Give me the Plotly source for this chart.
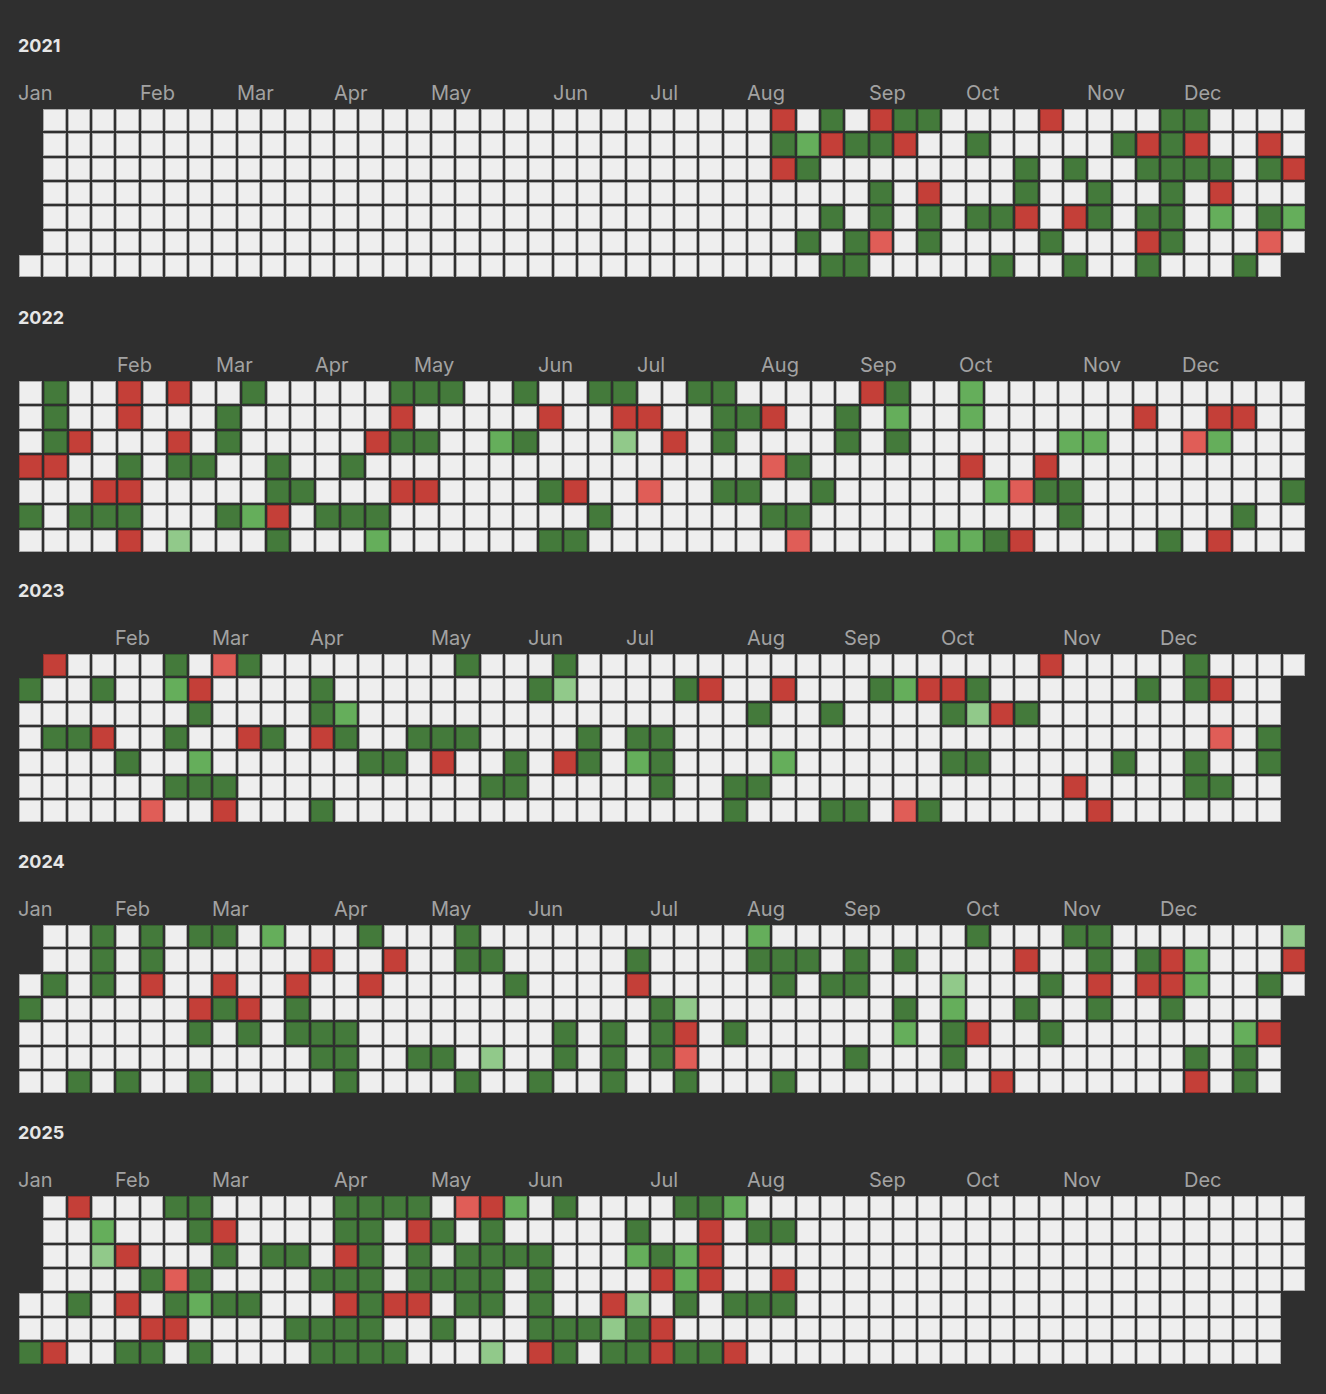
import datetime as dt
import plotly.graph_objects as go

# ---------------- data ----------------
YEARS = [2021, 2022, 2023, 2024, 2025]
MONTH_NAMES = ["Jan", "Feb", "Mar", "Apr", "May", "Jun",
               "Jul", "Aug", "Sep", "Oct", "Nov", "Dec"]

# cell codes: ' ' no day, '.' neutral, 'l' light green, 'g' green,
# 'G' dark green, 'r' light red, 'R' red
CODE_LEVEL = {"R": -2, "r": -1, ".": 0, "l": 1, "g": 2, "G": 3}

# rows = weekday (7), columns = weeks
GRID_2021 = [
    " ........." ".........." ".........." ".R.G.RGG.." "..R....GG." "...",
    " ........." ".........." ".........." ".GgRGGR..G" ".....GRGR." ".R.",
    " ........." ".........." ".........." ".RG......." ".G.G..GGGG" ".GR",
    " ........." ".........." ".........." ".....G.R.." ".G..G..G.R" "...",
    " ........." ".........." ".........." "...G.G.G.G" "GR.RG.GG.g" ".Gg",
    " ........." ".........." ".........." "..G.Gr.G.." "..G...RG.." ".r.",
    ".........." ".........." ".........." "...GG....." "G..G..G..." "G. ",
]
GRID_2022 = [
    ".G..R.R..G" ".....GGG.." "G..GG..GG." "....RG..g." ".........." "..",
    ".G..R...G." ".....R...." ".R..RR..GG" "R..G.g..g." ".....R..RR" "..",
    ".GR...R.G." "....RGG..g" "G...l.R.G." "...G.G...." "..gg...rg." "..",
    "RR..G.GG.." "G..G......" ".........." "rG......R." ".R........" "..",
    "...RR....." "GG...RR..." ".GR..r..GG" "..G......g" "rGG......." ".G",
    "G.GGG...Gg" "R.GGG....." "...G......" "GG........" "..G......G" "..",
    "....R.l..." "G...g....." ".GG......." ".r.....ggG" "R.....G.R." "..",
]
GRID_2023 = [
    " R....G.rG" "........G." "..G......." ".........." "..R.....G." "...",
    "G..G..gR.." "..G......." ".Gl....GR." ".R...GgRRG" "......G.GR" ".. ",
    ".......G.." "..Gg......" ".........." "G..G....Gl" "RG........" ".. ",
    ".GGR..G..R" "G.RG..GGG." "...G.GG..." ".........." ".........r" ".G ",
    "....G..g.." "....GG.R.." "G.RG.gG..." ".g......GG" ".....G..G." ".G ",
    "......GGG." ".........G" "G.....G..G" "G........." "...R....GG" ".. ",
    ".....r..R." "..G......." ".........G" "...GG.rG.." "....R....." ".. ",
]
GRID_2024 = [
    " ..G.G.GG." "g...G...G." ".........." "g........G" "...GG....." "..l",
    " ..G.G...." "..R..R..GG" ".....G...." "GGG.G.G..." ".R..G.GRg." "..R",
    ".G.G.R..R." ".R..R....." "G....R...." ".G.GG...l." "..G.R.RRg." ".G.",
    "G......RGR" ".G........" "......Gl.." "......G.g." ".G..G..G.." ".. ",
    ".......G.G" ".GGG......" "..G.G.GR.G" "......g.GR" "..G......." "gR ",
    ".........." "..GG..GG.l" "..G.G.Gr.." "....G...G." "........G." "G. ",
    "..G.G..G.." "...G....G." ".G..G..G.." ".G........" "R.......R." "G. ",
]
GRID_2025 = [
    " .R...GG.." "...GGGG.rR" "g.G....GGg" ".........." ".........." "...",
    " ..g...GR." "...GG.RG.G" ".....G..R." "GG........" ".........." "...",
    " ..lR...G." "GG.RG.G.GG" "GG...gGgR." ".........." ".........." "...",
    " ....GrG.." "..GGG.GGGG" ".G....RgR." ".R........" ".........." "...",
    "..G.R.GgGG" "...RGRR.GG" ".G..Rl.G.G" "GG........" ".........." ".. ",
    ".....RR..." ".GGGG..G.." ".GGGlGR..." ".........." ".........." ".. ",
    "GR..GG.G.." "..GGGG...l" ".RG.GGRGGR" ".........." ".........." ".. ",
]
GRIDS = [GRID_2021, GRID_2022, GRID_2023, GRID_2024, GRID_2025]

# ---------------- style / layout ----------------
W, H = 1326, 1394
LEFT, RIGHT = 18, 1306
GRID_TOPS = [108, 380, 653, 924, 1195]
BG = "#2f2f2f"
FILL = ["#c43f38", "#e05d57", "#eeeeee", "#91c98a", "#65ae5b", "#447a3b"]
EDGE = ["#9a312c", "#b44a45", "#a9a9a9", "#76a570", "#518d49", "#35612f"]
FONT = "Inter, Roboto, sans-serif"


def step_scale(colors):
    n = len(colors)
    scale = []
    for i, c in enumerate(colors):
        lo = max(0.0, (i - 0.5) / (n - 1))
        hi = min(1.0, (i + 0.5) / (n - 1))
        scale.append([lo, c])
        scale.append([hi, c])
    return scale


fig = go.Figure()
annotations = []

for k, (year, grid) in enumerate(zip(YEARS, GRIDS)):
    ncols = len(grid[0])
    pitch = (RIGHT - LEFT) / ncols
    top = GRID_TOPS[k]
    bottom = top + 7 * pitch
    z = [[CODE_LEVEL.get(ch) for ch in row] for row in grid]

    ax = "" if k == 0 else str(k + 1)
    xa, ya = "x" + ax, "y" + ax
    for colors, gap in ((EDGE, 2), (FILL, 4)):
        fig.add_trace(go.Heatmap(
            z=z, x=list(range(ncols)), y=list(range(7)),
            zmin=-2, zmax=3, colorscale=step_scale(colors),
            showscale=False, xgap=gap, ygap=gap, hoverinfo="skip",
            xaxis=xa, yaxis=ya,
        ))
    fig.layout["xaxis" + ax] = dict(
        domain=[LEFT / W, RIGHT / W], range=[-0.5, ncols - 0.5],
        visible=False, fixedrange=True, anchor=ya)
    fig.layout["yaxis" + ax] = dict(
        domain=[1 - bottom / H, 1 - top / H], range=[6.5, -0.5],
        visible=False, fixedrange=True, anchor=xa)

    # year title
    annotations.append(dict(
        text="<b>%d</b>" % year, xref="paper", yref="paper",
        x=LEFT / W, y=1 - (top - 62.5) / H, xanchor="left", yanchor="middle",
        showarrow=False, borderpad=0, borderwidth=0,
        font=dict(family=FONT, size=18, color="#e6e6e6")))

    # month labels
    start_row = dt.date(year, 1, 2).isoweekday() % 7
    for m, name in enumerate(MONTH_NAMES, start=1):
        doy = (dt.date(year, m, 1) - dt.date(year, 1, 1)).days
        col = (start_row + doy - 2) // 7
        if col < 0:
            continue
        annotations.append(dict(
            text=name, xref="paper", yref="paper",
            x=(LEFT + col * pitch) / W, y=1 - (top - 15) / H,
            xanchor="left", yanchor="middle", showarrow=False,
            borderpad=0, borderwidth=0,
            font=dict(family=FONT, size=20, color="#a2a2a2")))

fig.update_layout(
    width=W, height=H, margin=dict(l=0, r=0, t=0, b=0),
    paper_bgcolor=BG, plot_bgcolor=BG, showlegend=False,
    annotations=annotations,
)

fig.write_html("out.html", config={"displayModeBar": False})
